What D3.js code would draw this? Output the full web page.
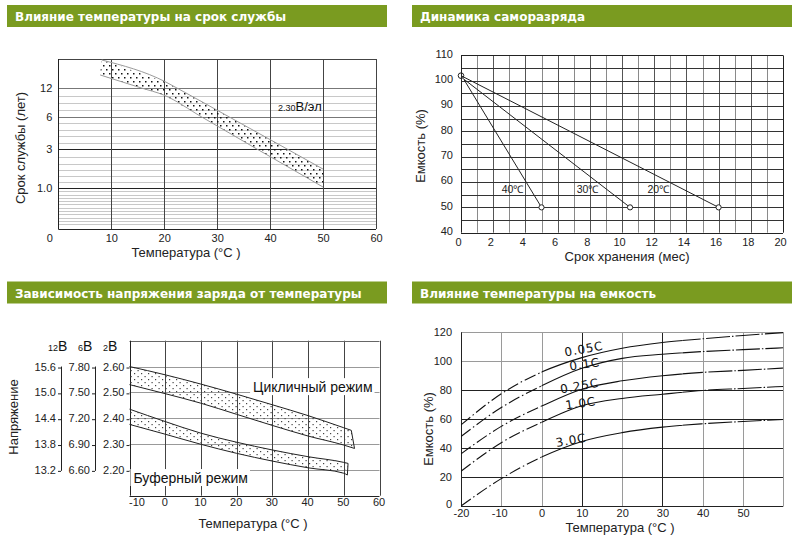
<!DOCTYPE html>
<html>
<head>
<meta charset="utf-8">
<script src="https://cdn.jsdelivr.net/npm/d3@7"></script>
<style>
body { margin: 0; background: #fff; }
svg { display: block; font-family: "Liberation Sans", Arial, sans-serif; }
.title { font-family: "DejaVu Sans", sans-serif; font-weight: bold; font-size: 12px; fill: #fff; }
.tick_label text { font-family: "Liberation Sans", Arial, sans-serif; font-size: 11px; fill: #222; }
.axis_title { font-size: 13px; fill: #222; }
</style>
</head>
<body>
<div id="charts"></div>
<script>
// panel titles
const titles = ["Влияние температуры на срок службы", "Динамика саморазряда",
    "Зависимость напряжения заряда от температуры", "Влияние температуры на емкость"];

// service life vs temperature
const life_x_ticks = [0, 10, 20, 30, 40, 50, 60];
const life_y_ticks = [1, 3, 6, 12];
const life_y_labels = ["1.0", "3", "6", "12"];
const life_minor = [10.3, 9, 7.5, 5.4, 4.8, 4.2, 3.6, 2.6, 2.25, 1.9, 1.6, 1.3,
    0.92, 0.84, 0.76, 0.68, 0.6, 0.52, 0.44, 0.36, 0.28, 0.2, 0.12];
const life_upper = [[8.2, 17.8], [20.2, 13.3], [22.4, 12], [32.3, 6], [43.2, 3], [50, 1.97]];
const life_lower = [[7.9, 14.7], [15.7, 12], [19.9, 10.55], [27.1, 6], [37.5, 3], [50, 1.05]];

// self discharge
const discharge_x_ticks = [0, 2, 4, 6, 8, 10, 12, 14, 16, 18, 20];
const discharge_x_grid = [1, 2, 3, 4, 5, 6, 7, 8, 9, 10, 11, 12, 13, 14, 15, 16, 17, 18, 19];
const discharge_y_ticks = [40, 50, 60, 70, 80, 90, 100, 110];
const discharge_y_grid = [45, 50, 55, 60, 65, 70, 75, 80, 85, 90, 95, 100, 105];
const discharge_names = ["40℃", "30℃", "20℃"];
const discharge_starts = [[0.2, 100.3], [0.1, 101], [0, 102]];
const discharge_ends = [[5.0, 50], [10.5, 50], [16.0, 50]];
const discharge_label_pos = [[3.2, 57.3], [7.86, 57.3], [12.25, 57.3]];

// charge voltage vs temperature
const charge_x_ticks = [-10, 0, 10, 20, 30, 40, 50, 60];
const charge_y_ticks = [2.2, 2.3, 2.4, 2.5, 2.6];
const charge_labels_12 = ["13.2", "13.8", "14.4", "15.0", "15.6"];
const charge_labels_6 = ["6.60", "6.90", "7.20", "7.50", "7.80"];
const charge_labels_2 = ["2.20", "2.30", "2.40", "2.50", "2.60"];
const cyclic_upper = [[-10, 2.600], [0, 2.568], [10, 2.532], [20, 2.493], [30, 2.452], [40, 2.410], [50, 2.363], [52.1, 2.353]];
const cyclic_lower = [[-10, 2.530], [0, 2.495], [10, 2.458], [20, 2.415], [30, 2.372], [40, 2.331], [50, 2.296], [53, 2.283]];
const float_upper = [[-10, 2.435], [0, 2.387], [10, 2.342], [20, 2.307], [30, 2.277], [40, 2.251], [50, 2.229], [51.2, 2.225]];
const float_lower = [[-10, 2.376], [0, 2.338], [10, 2.299], [20, 2.264], [30, 2.234], [40, 2.208], [50, 2.187], [51, 2.180]];

// capacity vs temperature
const cap_x_ticks = [-20, -10, 0, 10, 20, 30, 40, 50];
const cap_x_grid = [-10, 0, 10, 20, 30, 40, 50];
const cap_y_ticks = [0, 20, 40, 60, 80, 100, 120];
const cap_temps = [-20, -10, 0, 10, 20, 30, 40, 50, 60];
const cap_rates = ["0.05C", "0.1C", "0.25C", "1.0C", "3.0C"];
const cap_005 = [56, 77.5, 92.5, 102.5, 109, 113, 115.5, 117.8, 119.8];
const cap_01 = [48, 68, 83, 95.1, 102, 104.8, 106.7, 108, 109.3];
const cap_025 = [36, 55, 69, 80.7, 86.5, 90, 92.3, 93.7, 95.3];
const cap_10 = [24, 43.7, 57.8, 69.2, 74.3, 77.2, 79.8, 81.2, 82.6];
const cap_30 = [0, 18.9, 33.8, 44.6, 50.7, 54.5, 56.8, 58.4, 59.8];
const cap_label_pos = [[10.5, 108.5], [10.7, 98], [9.4, 83], [9.7, 71], [7.3, 45.5]];

const px = v => Math.round(v) + 0.5;
const plain = d => String(d);

let svg = d3.select("#charts").append("svg")
    .attr("width", 800)
    .attr("height", 540);

svg.append("rect").attr("width", 800).attr("height", 540).attr("fill", "#fff");

let defs = svg.append("defs");
let dots1 = defs.append("pattern").attr("id", "dots1")
    .attr("patternUnits", "userSpaceOnUse").attr("width", 6).attr("height", 8);
dots1.append("rect").attr("x", 1).attr("y", 1).attr("width", 1.5).attr("height", 1.5).attr("fill", "#111");
dots1.append("rect").attr("x", 4).attr("y", 5).attr("width", 1.5).attr("height", 1.5).attr("fill", "#111");
let dots2 = defs.append("pattern").attr("id", "dots2")
    .attr("patternUnits", "userSpaceOnUse").attr("width", 7).attr("height", 6);
dots2.append("rect").attr("x", 1).attr("y", 1).attr("width", 1.2).attr("height", 1.2).attr("fill", "#444");
dots2.append("rect").attr("x", 4.5).attr("y", 4).attr("width", 1.2).attr("height", 1.2).attr("fill", "#444");

function header(x, y, text) {
    svg.append("rect")
        .attr("x", x).attr("y", y)
        .attr("width", 380).attr("height", 22)
        .attr("fill", "#7a9b20");
    svg.append("text")
        .attr("class", "title")
        .attr("x", x + 8).attr("y", y + 16)
        .text(text);
}

function hline(g, x1, x2, y, color) {
    g.append("line").attr("x1", x1).attr("x2", x2)
        .attr("y1", px(y)).attr("y2", px(y)).attr("stroke", color);
}

function vline(g, x, y1, y2, color) {
    g.append("line").attr("x1", px(x)).attr("x2", px(x))
        .attr("y1", y1).attr("y2", y2).attr("stroke", color);
}

function strip_axis(g) {
    g.attr("class", "tick_label");
    g.select(".domain").remove();
    g.selectAll("text").attr("font-size", null).attr("font-family", null);
}

function axis_title(x, y, text, rotate) {
    let t = svg.append("text")
        .attr("class", "axis_title")
        .attr("text-anchor", "middle")
        .text(text);
    if (rotate) t.attr("transform", "translate(" + x + "," + y + ") rotate(-90)");
    else t.attr("x", x).attr("y", y);
}

function band(g, upper, lower, x, y, fill_id, stroke) {
    let area = upper.concat(lower.slice().reverse());
    g.append("path")
        .attr("d", d3.line().x(d => x(d[0])).y(d => y(d[1]))(area) + "Z")
        .attr("fill", "url(#" + fill_id + ")")
        .attr("stroke", "none");
    for (const edge of [upper, lower]) {
        g.append("path")
            .attr("d", d3.line().x(d => x(d[0])).y(d => y(d[1])).curve(d3.curveMonotoneX)(edge))
            .attr("fill", "none")
            .attr("stroke", stroke);
    }
}

function life_chart() {
    let x = d3.scaleLinear().domain([0, 60]).range([58.3, 376]);
    let y = d3.scaleLinear().domain([0, 1, 3, 6, 12, 18]).range([229, 188, 149, 117, 88, 59]);
    let g = svg.append("g");

    for (const v of life_minor) hline(g, x(0), x(60), y(v), "#c8c8c8");
    for (const v of life_y_ticks) hline(g, x(0), x(60), y(v), v >= 6 ? "#777" : "#222");
    for (const v of life_x_ticks.slice(1)) vline(g, x(v), y(18), y(0), "#444");
    hline(g, x(0), x(60), y(18), "#444");
    hline(g, x(0), x(60), y(0), "#222");
    vline(g, x(0), y(18), y(0), "#222");

    band(g, life_upper, life_lower, x, y, "dots1", "#9a9a9a");

    svg.append("g")
        .attr("transform", "translate(0," + y(0) + ")")
        .call(d3.axisBottom(x).tickValues(life_x_ticks).tickSize(0).tickPadding(5.5).tickFormat(plain))
        .call(strip_axis)
        .selectAll("text").filter(d => d === 0).attr("dx", -9);
    svg.append("g")
        .attr("transform", "translate(" + x(0) + ",0)")
        .call(d3.axisLeft(y).tickValues(life_y_ticks).tickSize(0).tickPadding(6)
            .tickFormat((d, i) => life_y_labels[i]))
        .call(strip_axis);

    let note = svg.append("text").attr("x", x(41.5)).attr("y", y(7.2)).attr("fill", "#111");
    note.append("tspan").attr("font-size", 9).text("2.30");
    note.append("tspan").attr("font-size", 13).text("В/эл");

    axis_title(186, 257, "Температура (°C )");
    axis_title(25, 148, "Срок службы (лет)", true);
}

function discharge_chart() {
    let x = d3.scaleLinear().domain([0, 20]).range([461, 783]);
    let y = d3.scaleLinear().domain([40, 110]).range([232.7, 55.4]);
    let g = svg.append("g");

    for (const v of discharge_x_grid) vline(g, x(v), y(110), y(40), v % 2 ? "#8a8a8a" : "#555");
    for (const v of discharge_y_grid) hline(g, x(0), x(20), y(v), "#333");
    hline(g, x(0), x(20), y(110), "#222");
    hline(g, x(0), x(20), y(40), "#222");
    vline(g, x(0), y(110), y(40), "#222");
    vline(g, x(20), y(110), y(40), "#222");

    discharge_names.forEach((name, i) => {
        g.append("path")
            .attr("d", d3.line().x(d => x(d[0])).y(d => y(d[1]))([discharge_starts[i], discharge_ends[i]]))
            .attr("stroke", "#222").attr("fill", "none");
        g.append("circle")
            .attr("cx", x(discharge_ends[i][0])).attr("cy", y(discharge_ends[i][1]))
            .attr("r", 2.6).attr("fill", "#fff").attr("stroke", "#222");
        g.append("text")
            .attr("x", x(discharge_label_pos[i][0])).attr("y", y(discharge_label_pos[i][1]))
            .attr("dy", "0.35em").attr("text-anchor", "middle")
            .attr("font-size", 10.5).attr("fill", "#222")
            .text(name);
    });
    g.append("circle")
        .attr("cx", x(discharge_starts[2][0])).attr("cy", y(discharge_starts[2][1]))
        .attr("r", 2.8).attr("fill", "none").attr("stroke", "#222");

    svg.append("g")
        .attr("transform", "translate(0," + y(40) + ")")
        .call(d3.axisBottom(x).tickValues(discharge_x_ticks).tickSize(0).tickPadding(6).tickFormat(plain))
        .call(strip_axis)
        .selectAll("text").attr("dx", -3);
    svg.append("g")
        .attr("transform", "translate(" + x(0) + ",0)")
        .call(d3.axisLeft(y).tickValues(discharge_y_ticks).tickSize(0).tickPadding(8).tickFormat(plain))
        .call(strip_axis)
        .selectAll("text").attr("dy", "0.15em");

    axis_title(627, 261, "Срок хранения (мес)");
    axis_title(425, 146, "Емкость (%)", true);
}

function charge_chart() {
    let x = d3.scaleLinear().domain([-10, 60]).range([129.5, 379.5]);
    let y = d3.scaleLinear().domain([2.1, 2.7]).range([495.7, 340.7]);
    let g = svg.append("g");

    for (const v of charge_y_ticks) hline(g, x(-10), x(60), y(v), "#999");
    for (const v of charge_x_ticks.slice(1, -1)) vline(g, x(v), y(2.7), y(2.1), "#444");
    hline(g, x(-10), x(60), y(2.7), "#666");
    hline(g, x(-10), x(60), y(2.1), "#222");
    vline(g, x(-10), y(2.7), y(2.1), "#222");

    band(g, cyclic_upper, cyclic_lower, x, y, "dots2", "#222");
    band(g, float_upper, float_lower, x, y, "dots2", "#222");
    for (const [u, l] of [[cyclic_upper, cyclic_lower], [float_upper, float_lower]]) {
        g.append("path")
            .attr("d", d3.line().x(d => x(d[0])).y(d => y(d[1]))([u[u.length - 1], l[l.length - 1]]))
            .attr("stroke", "#222").attr("fill", "none");
    }

    const label_bg = (tx, ty, text) => {
        let t = g.append("text").attr("x", tx).attr("y", ty)
            .attr("font-size", 14).attr("fill", "#111")
            .text(text);
        let b = t.node().getBBox();
        g.insert("rect", "text").attr("x", b.x - 3).attr("y", b.y - 1)
            .attr("width", b.width + 5).attr("height", b.height + 1)
            .attr("fill", "#fff");
    };
    label_bg(x(24.6), y(2.501), "Цикличный режим");
    label_bg(x(-8.9), y(2.149), "Буферный режим");
    vline(g, x(60), y(2.7), y(2.1), "#444");

    svg.append("g")
        .attr("transform", "translate(0," + y(2.1) + ")")
        .call(d3.axisBottom(x).tickValues(charge_x_ticks).tickSize(0).tickPadding(2).tickFormat(plain))
        .call(strip_axis)
        .selectAll("text").attr("dx", d => d === -10 ? 7 : -1);

    const volt_axis = (ax, labels, with_line) => {
        svg.append("g")
            .attr("transform", "translate(" + ax + ",0)")
            .call(d3.axisLeft(y).tickValues(charge_y_ticks).tickSize(3).tickPadding(2)
                .tickFormat((d, i) => labels[i]))
            .call(strip_axis)
            .selectAll("line").attr("stroke", "#222").attr("transform", "translate(0,1)");
        if (with_line) vline(svg, ax - 0.5, y(2.6), y(2.2) + 1, "#222");
    };
    volt_axis(61, charge_labels_12, true);
    volt_axis(95, charge_labels_6, true);
    volt_axis(x(-10), charge_labels_2, false);

    const unit_head = (hx, num) => {
        let t = svg.append("text").attr("x", hx).attr("y", 351).attr("fill", "#111");
        t.append("tspan").attr("font-size", 9).text(num);
        t.append("tspan").attr("font-size", 14).text("В");
    };
    unit_head(48, "12");
    unit_head(78, "6");
    unit_head(103, "2");

    axis_title(253, 528, "Температура (°C )");
    axis_title(18, 417, "Напряжение", true);
}

function capacity_chart() {
    let x = d3.scaleLinear().domain([-20, 60]).range([461, 783.3]);
    let y = d3.scaleLinear().domain([0, 120]).range([506, 332.3]);
    let g = svg.append("g");

    for (const v of cap_x_grid) vline(g, x(v), y(120), y(0), (v === 10 || v === 30) ? "#222" : "#9a9a9a");
    for (const v of cap_y_ticks.slice(1, -1)) hline(g, x(-20), x(60), y(v), v === 100 ? "#9a9a9a" : "#222");
    hline(g, x(-20), x(60), y(120), "#9a9a9a");
    vline(g, x(60), y(120), y(0), "#9a9a9a");
    hline(g, x(-20), x(60), y(0), "#222");
    vline(g, x(-20), y(120), y(0), "#222");

    const parts = [
        {id: "cap_left", from: -20, to: 0, dash: "12 3 1.5 3"},
        {id: "cap_mid", from: 0, to: 35, dash: null},
        {id: "cap_right", from: 35, to: 60, dash: "24 2 1.5 2"}
    ];
    for (const p of parts) {
        defs.append("clipPath").attr("id", p.id)
            .append("rect")
            .attr("x", x(p.from)).attr("y", y(125))
            .attr("width", x(p.to) - x(p.from)).attr("height", y(-5) - y(125));
    }
    const series = [cap_005, cap_01, cap_025, cap_10, cap_30];
    let line = d3.line().x((_, i) => x(cap_temps[i])).y(v => y(v)).curve(d3.curveMonotoneX);
    series.forEach((vals, i) => {
        for (const p of parts) {
            g.append("path")
                .attr("d", line(vals))
                .attr("fill", "none")
                .attr("stroke", "#111")
                .attr("stroke-width", 1.1)
                .attr("stroke-dasharray", p.dash)
                .attr("clip-path", "url(#" + p.id + ")");
        }
        const lp = cap_label_pos[i];
        g.append("text")
            .attr("transform", "translate(" + x(lp[0]) + "," + y(lp[1]) + ") rotate(" + (i % 2 ? -8 : -10) + ")")
            .attr("text-anchor", "middle").attr("dy", "0.35em")
            .attr("font-family", "DejaVu Sans, sans-serif")
            .attr("font-size", 12).attr("letter-spacing", 0.8)
            .attr("fill", "#111")
            .text(cap_rates[i]);
    });

    svg.append("g")
        .attr("transform", "translate(0," + y(0) + ")")
        .call(d3.axisBottom(x).tickValues(cap_x_ticks).tickSize(0).tickPadding(3).tickFormat(plain))
        .call(strip_axis)
        .selectAll("text").attr("dx", d => d === -10 ? -2 : 0);
    svg.append("g")
        .attr("transform", "translate(" + x(-20) + ",0)")
        .call(d3.axisLeft(y).tickValues(cap_y_ticks).tickSize(0).tickPadding(9).tickFormat(plain))
        .call(strip_axis)
        .selectAll("text").filter(d => d === 0).attr("dy", "0.1em");

    axis_title(620, 532, "Температура (°C )");
    axis_title(433, 429, "Емкость (%)", true);
}

header(7, 5, titles[0]);
header(412, 5, titles[1]);
header(7, 281.5, titles[2]);
header(412, 281.5, titles[3]);
life_chart();
discharge_chart();
charge_chart();
capacity_chart();
</script>
</body>
</html>
